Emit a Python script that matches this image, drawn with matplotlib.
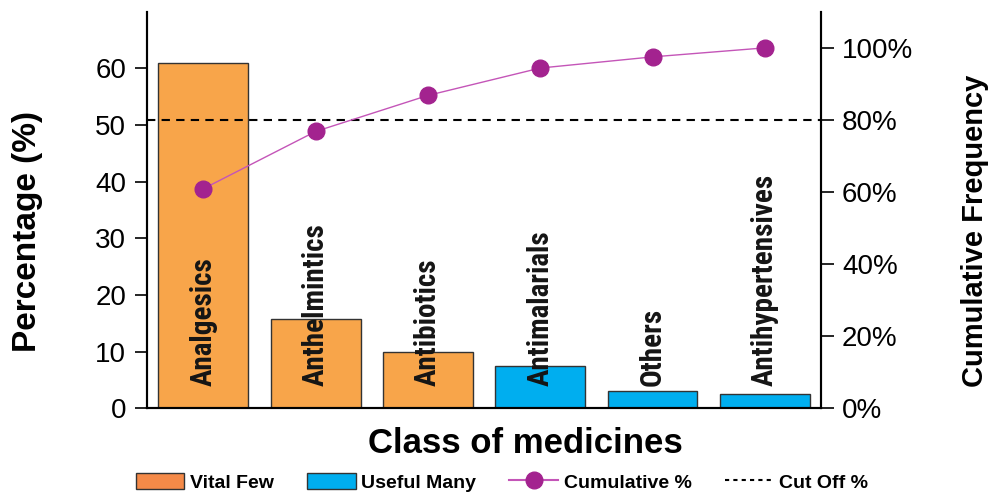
import matplotlib
matplotlib.use("Agg")
import matplotlib.pyplot as plt
from matplotlib.patches import Patch
from matplotlib.lines import Line2D

classes = ["Analgesics", "Anthelmintics", "Antibiotics", "Antimalarials", "Others", "Antihypertensives"]
percent = [60.9, 15.8, 9.9, 7.5, 3.0, 2.5]
cumulative = [60.9, 76.8, 86.8, 94.4, 97.5, 100.0]
group = ["vital", "vital", "vital", "useful", "useful", "useful"]
cutoff = 80

orange = "#F8A54A"
blue = "#00AEEF"
purple = "#A3238F"
narrow = ["Roboto Condensed", "DejaVu Sans"]
sans = ["Liberation Sans", "DejaVu Sans"]

fig = plt.figure(figsize=(9.94, 4.93), dpi=100)
ax = fig.add_axes([0.148, 0.172, 0.678, 0.804])
ax2 = ax.twinx()

x = range(len(classes))
colors = [orange if g == "vital" else blue for g in group]
ax.bar(x, percent, width=0.8, color=colors, edgecolor="#333333", linewidth=1, zorder=2)
for i, name in enumerate(classes):
    ax.text(i, 4, name, rotation=90, ha="center", va="bottom", fontsize=21,
            fontweight="bold", family=narrow, color="#151515", zorder=3)

ax.set_xlim(-0.5, len(classes) - 0.5)
ax.set_ylim(0, 70)
ax.set_yticks([0, 10, 20, 30, 40, 50, 60])
ax.set_xticks([])
ax.tick_params(axis="y", direction="out", length=9, width=1.2, labelsize=20, pad=6)
for lab in ax.get_yticklabels():
    lab.set_family(sans)

ax2.set_ylim(0, 110)
ax2.set_yticks([0, 20, 40, 60, 80, 100])
ax2.set_yticklabels([f"{v}%" for v in [0, 20, 40, 60, 80, 100]], family=sans)
ax2.tick_params(axis="y", direction="out", length=9, width=1.2, labelsize=20, pad=6)
ax2.plot(x, cumulative, color="#C455B8", linewidth=1, marker="o", markersize=12,
         markerfacecolor=purple, markeredgecolor=purple, zorder=4)
ax2.axhline(cutoff, color="black", linestyle=(0, (4, 3)), linewidth=1.5, zorder=3)

for a in (ax, ax2):
    a.spines["top"].set_visible(False)
    a.spines["left"].set_linewidth(1.5)
    a.spines["right"].set_linewidth(1.5)
    a.spines["bottom"].set_linewidth(1.5)

ax.set_ylabel("Percentage (%)", fontsize=24, fontweight="bold", family=sans)
ax.yaxis.set_label_coords(-0.177, 0.447)
ax.yaxis.label.set_va("center")
ax2.set_ylabel("Cumulative Frequency", fontsize=21, fontweight="bold", family=sans, rotation=90)
ax2.yaxis.set_label_coords(1.228, 0.447)
ax2.yaxis.label.set_va("center")
ax.set_xlabel("Class of medicines", fontsize=25, fontweight="bold", family=sans)
ax.xaxis.set_label_coords(0.562, -0.088)
ax.xaxis.label.set_va("center")

handles = [
    Patch(facecolor="#F58A48", edgecolor="#333333", label="Vital Few"),
    Patch(facecolor=blue, edgecolor="#333333", label="Useful Many"),
    Line2D([], [], color="#C455B8", linewidth=1.5, marker="o", markersize=12,
           markerfacecolor=purple, markeredgecolor=purple, label="Cumulative %"),
    Line2D([], [], color="black", linestyle=(0, (2, 2)), linewidth=1.5, label="Cut Off %"),
]
fig.legend(handles=handles, loc="center", bbox_to_anchor=(0.505, 0.022), ncol=4, frameon=False,
           prop={"family": sans, "weight": "bold", "size": 14}, handlelength=2.5,
           handletextpad=0.3, columnspacing=1.7, handleheight=0.9)

fig.savefig("out.png", dpi=100)
